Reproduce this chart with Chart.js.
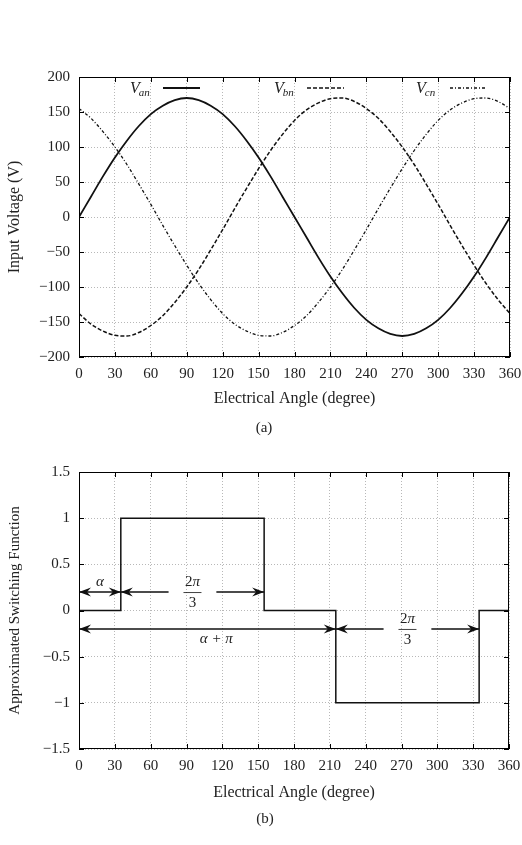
<!DOCTYPE html>
<html>
<head>
<meta charset="utf-8">
<script src="https://cdn.jsdelivr.net/npm/chart.js@4/dist/chart.umd.min.js"></script>
<style>
  body { margin: 0; background: #fff; }
  #wrap { position: relative; width: 522px; height: 845px; }
  canvas { position: absolute; left: 0; }
  .cap { position: absolute; font: 15px "Liberation Serif", serif; color: #222; transform: translate(-50%, -50%); }
</style>
</head>
<body>
<div id="wrap">
  <canvas id="voltChart" width="522" height="440" style="top:0"></canvas>
  <canvas id="switchChart" width="522" height="405" style="top:440px"></canvas>
  <div class="cap" style="left:264px; top:427px">(a)</div>
  <div class="cap" style="left:265px; top:818px">(b)</div>
</div>
<script>
// --- data ---
const angles = [0, 10, 20, 30, 40, 50, 60, 70, 80, 90, 100, 110, 120, 130, 140, 150, 160, 170, 180,
  190, 200, 210, 220, 230, 240, 250, 260, 270, 280, 290, 300, 310, 320, 330, 340, 350, 360];
const vanValues = [0, 29, 58, 85, 109, 130, 147, 159, 167, 170, 167, 159, 147, 130, 109, 85, 58, 29, 0,
  -29, -58, -85, -109, -130, -147, -159, -167, -170, -167, -159, -147, -130, -109, -85, -58, -29, 0];
const vbnValues = [-138, -153, -163, -169, -170, -165, -155, -141, -122, -100, -75, -47, -18, 12, 41, 69, 95, 118, 138,
  153, 163, 169, 170, 165, 155, 141, 122, 100, 75, 47, 18, -12, -41, -69, -95, -118, -138];
const vcnValues = [155, 141, 122, 100, 75, 47, 18, -12, -41, -69, -95, -118, -138, -153, -163, -169, -170, -165, -155,
  -141, -122, -100, -75, -47, -18, 12, 41, 69, 95, 118, 138, 153, 163, 169, 170, 165, 155];

// switching function: level changes at these angles
const switchAngles = [0, 35, 155, 215, 335, 360];
const switchLevels = [0, 1, 0, -1, 0, 0];

// dimension arrows on plot (b), in axis units
const spanStart = [0, 35, 0, 215];
const spanEnd = [35, 155, 215, 335];
const spanLevel = [0.2, 0.2, -0.2, -0.2];
const spanGap = [null, [75, 115], null, [255, 295]];
const spanLabel = ['α', 'frac', 'α + π', 'frac'];
const spanLabelAt = [17.5, 95, 115, 275];

const serif = '"Liberation Serif", "Times New Roman", serif';
const ink = '#222';

function fmtMinus(v) {
  return String(v).replace('-', '\u2212');
}

// closed box + inward tick marks like the original plots
const framePlugin = {
  id: 'frame',
  afterDraw(chart) {
    const { ctx, chartArea: a, scales } = chart;
    ctx.save();
    ctx.strokeStyle = '#000';
    ctx.lineWidth = 1;
    ctx.setLineDash([]);
    ctx.strokeRect(a.left + 0.5, a.top + 0.5, a.right - a.left - 1, a.bottom - a.top - 1);
    ctx.beginPath();
    scales.x.ticks.forEach(t => {
      const px = Math.round(scales.x.getPixelForValue(t.value)) + 0.5;
      ctx.moveTo(px, a.bottom); ctx.lineTo(px, a.bottom - 5);
      ctx.moveTo(px, a.top); ctx.lineTo(px, a.top + 5);
    });
    scales.y.ticks.forEach(t => {
      const py = Math.round(scales.y.getPixelForValue(t.value)) + 0.5;
      ctx.moveTo(a.left, py); ctx.lineTo(a.left + 5, py);
      ctx.moveTo(a.right, py); ctx.lineTo(a.right - 5, py);
    });
    ctx.stroke();
    ctx.restore();
  }
};

// legend inside plot (a): italic V with subscript + line sample
const voltLegend = {
  id: 'voltLegend',
  afterDraw(chart) {
    const { ctx, chartArea: a } = chart;
    const subs = ['an', 'bn', 'cn'];
    const textX = [130, 274, 416];
    const lineX = [163, 307, 450];
    const y = a.top + 11;
    ctx.save();
    chart.data.datasets.forEach((ds, i) => {
      ctx.fillStyle = ink;
      ctx.textBaseline = 'alphabetic';
      ctx.textAlign = 'left';
      ctx.font = 'italic 16px ' + serif;
      ctx.fillText('V', textX[i], y + 5);
      const w = ctx.measureText('V').width;
      ctx.font = 'italic 11px ' + serif;
      ctx.fillText(subs[i], textX[i] + w - 1, y + 8);
      ctx.strokeStyle = ds.borderColor;
      ctx.lineWidth = ds.borderWidth;
      ctx.setLineDash(ds.borderDash || []);
      ctx.beginPath();
      ctx.moveTo(lineX[i], y);
      ctx.lineTo(lineX[i] + 37, y);
      ctx.stroke();
    });
    ctx.restore();
  }
};

function arrowHead(ctx, x, y, dir) {
  ctx.beginPath();
  ctx.moveTo(x, y);
  ctx.lineTo(x - dir * 12, y - 4.5);
  ctx.lineTo(x - dir * 8, y);
  ctx.lineTo(x - dir * 12, y + 4.5);
  ctx.closePath();
  ctx.fill();
}

// dimension arrows + labels on plot (b)
const spanPlugin = {
  id: 'spans',
  afterDatasetsDraw(chart) {
    const { ctx, scales: { x, y } } = chart;
    ctx.save();
    ctx.strokeStyle = '#111';
    ctx.fillStyle = '#111';
    ctx.lineWidth = 1.4;
    spanStart.forEach((s, i) => {
      const x0 = x.getPixelForValue(s);
      const x1 = x.getPixelForValue(spanEnd[i]);
      const py = y.getPixelForValue(spanLevel[i]);
      ctx.beginPath();
      if (spanGap[i]) {
        ctx.moveTo(x0, py); ctx.lineTo(x.getPixelForValue(spanGap[i][0]), py);
        ctx.moveTo(x.getPixelForValue(spanGap[i][1]), py); ctx.lineTo(x1, py);
      } else {
        ctx.moveTo(x0, py); ctx.lineTo(x1, py);
      }
      ctx.stroke();
      arrowHead(ctx, x0, py, -1);
      arrowHead(ctx, x1, py, 1);

      const lx = x.getPixelForValue(spanLabelAt[i]);
      ctx.fillStyle = ink;
      ctx.textBaseline = 'middle';
      if (spanLabel[i] === 'frac') {
        // "2" upright, "π" italic, over a bar, "3" below
        ctx.font = '15px ' + serif;
        const w2 = ctx.measureText('2').width;
        ctx.font = 'italic 15px ' + serif;
        const wp = ctx.measureText('π').width;
        const sx = lx - (w2 + wp) / 2;
        ctx.textAlign = 'left';
        ctx.font = '15px ' + serif;
        ctx.fillText('2', sx, py - 10);
        ctx.font = 'italic 15px ' + serif;
        ctx.fillText('π', sx + w2, py - 10);
        ctx.textAlign = 'center';
        ctx.font = '15px ' + serif;
        ctx.fillText('3', lx, py + 11);
        ctx.lineWidth = 0.8;
        ctx.beginPath();
        ctx.moveTo(lx - 9, py + 0.5); ctx.lineTo(lx + 9, py + 0.5);
        ctx.stroke();
        ctx.lineWidth = 1.4;
      } else {
        ctx.textAlign = 'center';
        ctx.font = 'italic 15px ' + serif;
        ctx.fillText(spanLabel[i], lx, spanLevel[i] > 0 ? py - 10 : py + 10);
      }
      ctx.fillStyle = '#111';
    });
    ctx.restore();
  }
};

function axes(yMin, yMax, yStep, yTitle, yTitleSize, xHeight, titlePadBottom, yTitlePad) {
  const grid = { color: '#b8b8b8', lineWidth: 1, drawTicks: false };
  const border = { display: false, dash: [1, 2] };
  return {
    x: {
      type: 'linear', min: 0, max: 360,
      grid, border,
      ticks: { stepSize: 30, padding: 8, color: ink, font: { family: serif, size: 15 }, maxRotation: 0 },
      title: { display: true, text: 'Electrical Angle (degree)', color: ink,
        font: { family: serif, size: 16 }, padding: { top: 0, bottom: titlePadBottom } },
      afterFit(s) { s.height = xHeight; s.paddingLeft = 0; s.paddingRight = 0; }
    },
    y: {
      min: yMin, max: yMax,
      grid, border,
      ticks: { stepSize: yStep, padding: 9, color: ink, font: { family: serif, size: 15 },
        callback: v => fmtMinus(v) },
      title: { display: true, text: yTitle, color: ink,
        font: { family: serif, size: yTitleSize }, padding: { top: yTitlePad, bottom: 0 } },
      afterFit(s) { s.width = 79; s.paddingTop = 0; s.paddingBottom = 0; }
    }
  };
}

new Chart(document.getElementById('voltChart'), {
  type: 'line',
  data: {
    labels: angles,
    datasets: [
      { label: 'Van', data: angles.map((a, i) => ({ x: a, y: vanValues[i] })),
        borderColor: '#111', borderWidth: 1.8 },
      { label: 'Vbn', data: angles.map((a, i) => ({ x: a, y: vbnValues[i] })),
        borderColor: '#111', borderWidth: 1.5, borderDash: [4, 2] },
      { label: 'Vcn', data: angles.map((a, i) => ({ x: a, y: vcnValues[i] })),
        borderColor: '#111', borderWidth: 1.3, borderDash: [3, 2, 1, 2] }
    ]
  },
  options: {
    responsive: false,
    animation: false,
    layout: { padding: { top: 77, right: 12, left: 0, bottom: 0 } },
    elements: { point: { radius: 0 }, line: { cubicInterpolationMode: 'monotone' } },
    plugins: { legend: { display: false }, tooltip: { enabled: false } },
    scales: axes(-200, 200, 50, 'Input Voltage (V)', 16, 83, 32, 5)
  },
  plugins: [framePlugin, voltLegend]
});

new Chart(document.getElementById('switchChart'), {
  type: 'line',
  data: {
    datasets: [
      { label: 'Switching', data: switchAngles.map((a, i) => ({ x: a, y: switchLevels[i] })),
        borderColor: '#111', borderWidth: 1.5, stepped: 'before' }
    ]
  },
  options: {
    responsive: false,
    animation: false,
    layout: { padding: { top: 32, right: 13, left: 0, bottom: 0 } },
    elements: { point: { radius: 0 } },
    plugins: { legend: { display: false }, tooltip: { enabled: false } },
    scales: axes(-1.5, 1.5, 0.5, 'Approximated Switching Function', 15, 96, 43, 6)
  },
  plugins: [framePlugin, spanPlugin]
});
</script>
</body>
</html>
